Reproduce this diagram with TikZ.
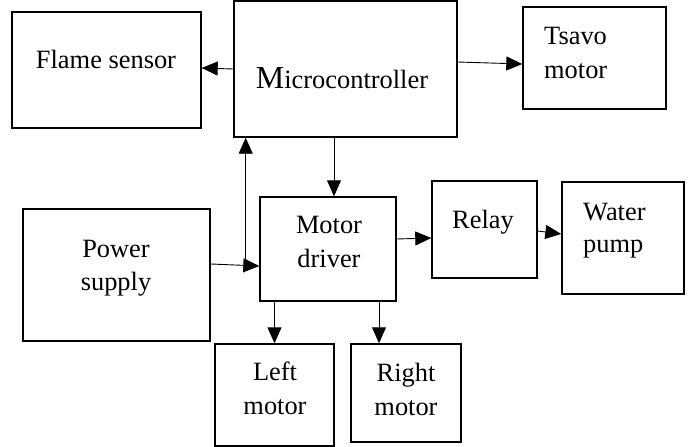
\documentclass[tikz,border=0pt]{standalone}
\usepackage{fontspec}
\setmainfont{Liberation Serif}
\usetikzlibrary{arrows.meta,calc}
\begin{document}
\begin{tikzpicture}[x=1pt,y=-1pt,
  blk/.style={draw=black,line width=1.4pt,minimum width=#1,inner sep=0pt},
  bh/.style={minimum height=#1},
  lbl/.style={inner sep=0pt,font=\fontsize{26.4}{33}\selectfont},
  arr/.style={line width=0.9pt,-{Triangle[length=16pt,width=14pt]}},
  ln/.style={line width=0.9pt}]
\useasboundingbox (0,0) rectangle (689,447);
% boxes
\node[blk=189pt,bh=116pt] (flame) at (106.5,70) {};
\node[blk=223pt,bh=136pt] (micro) at (345.5,69) {};
\node[blk=143pt,bh=102pt] (tsavo) at (594.5,58) {};
\node[blk=187pt,bh=132pt] (power) at (116.5,275) {};
\node[blk=136pt,bh=104pt] (driver) at (328,249) {};
\node[blk=105pt,bh=97pt] (relay) at (484.5,229.5) {};
\node[blk=122pt,bh=112pt] (pump) at (623,238) {};
\node[blk=119pt,bh=102pt] (left) at (274.5,395) {};
\node[blk=110pt,bh=98pt] (right) at (406,393) {};
% texts
\node[lbl,anchor=base] (tflame) at (106,68) {Flame sensor};
\node[lbl,anchor=base] (tmicro) at (342,88) {{\fontsize{32}{33}\selectfont M}icrocontroller};
\node[lbl,anchor=base west] (ttsavo1) at (544,45) {Tsavo};
\node[lbl,anchor=base west] (ttsavo2) at (544,78) {motor};
\node[lbl,anchor=base] (tpow1) at (116,257) {Power};
\node[lbl,anchor=base] (tpow2) at (116,290) {supply};
\node[lbl,anchor=base] (tdrv1) at (329,233) {Motor};
\node[lbl,anchor=base] (tdrv2) at (329,267) {driver};
\node[lbl,anchor=base] (trelay) at (483,228) {Relay};
\node[lbl,anchor=base west] (tpump1) at (583,220) {Water};
\node[lbl,anchor=base west] (tpump2) at (583,252) {pump};
\node[lbl,anchor=base] (tleft1) at (275,380) {Left};
\node[lbl,anchor=base] (tleft2) at (275,414) {motor};
\node[lbl,anchor=base] (tright1) at (406,381) {Right};
\node[lbl,anchor=base] (tright2) at (406,415) {motor};
% connectors
\draw[arr] (micro.west) -- ($(flame.east)+(0,-2)$);
\draw[arr] ($(micro.east)+(0,-7)$) -- ($(tsavo.west)+(0,6)$);
\coordinate (j) at ($(power.east)+(35,-10)$);
\draw[arr] ($(power.east)+(0,-11)$) -- ($(driver.west)+(0,17)$);
\draw[arr] (j) -- (j |- micro.south);
\coordinate (m1) at ($(micro.south)+(-11.5,0)$);
\draw[arr] (m1) -- (m1 |- driver.north);
\draw[arr] (left.north |- driver.south) -- (left.north);
\coordinate (r1) at ($(driver.south)+(51,0)$);
\draw[arr] (r1) -- (r1 |- right.north);
\draw[arr] ($(driver.east)+(0,-10)$) -- ($(relay.west)+(0,8.5)$);
\draw[arr] ($(relay.east)+(0,1.5)$) -- ($(pump.west)+(0,-4)$);
\end{tikzpicture}
\end{document}
